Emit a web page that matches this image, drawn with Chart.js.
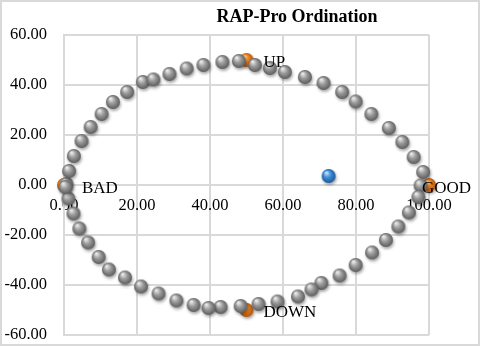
<!DOCTYPE html>
<html>
<head>
<meta charset="utf-8">
<script src="https://cdn.jsdelivr.net/npm/chart.js@4"></script>
<style>
  body { margin: 0; background: #fff; }
  #wrap { position: relative; width: 480px; height: 346px; }
  #frame { position: absolute; left: 0; top: 0; width: 480px; height: 346px; box-sizing: border-box; border: 2px solid #d9d9d9; pointer-events: none; }
</style>
</head>
<body>
<div id="wrap">
  <canvas id="myChart" width="480" height="346"></canvas>
  <div id="frame"></div>
</div>
<script>
// ordination scores
var grayX = [0.7, 1.4, 2.7, 4.8, 7.3, 10.3, 13.4, 17.3, 21.6, 24.5, 28.9, 33.6, 38.2, 43.4, 47.9,
  52.3, 56.4, 60.5, 66.0, 71.1, 76.2, 79.9, 84.2, 89.0, 92.7, 95.8, 98.4, 97.7,
  97.1, 94.5, 91.6, 88.2, 84.4, 79.9, 75.5, 70.5, 67.8, 64.1, 58.5, 53.3, 48.4, 42.9, 39.6,
  35.5, 30.8, 25.9, 21.1, 16.7, 12.3, 9.5, 6.6, 4.2, 2.6, 1.2, 0.4];
var grayY = [0.4, 5.6, 11.6, 17.6, 23.2, 28.4, 33.2, 37.2, 41.2, 42.2, 44.4, 46.6, 48.0, 49.2, 49.6,
  48.0, 46.8, 45.2, 43.2, 40.8, 37.2, 33.4, 28.4, 22.8, 17.2, 11.2, 5.2, -0.2,
  -4.8, -11.0, -16.6, -22.0, -27.0, -32.0, -36.2, -39.2, -41.8, -44.6, -46.6, -47.6, -48.4, -48.8, -49.2,
  -48.0, -46.2, -43.4, -40.6, -37.0, -33.8, -28.8, -23.0, -17.4, -11.4, -5.4, -0.8];

var refNames = ['BAD', 'UP', 'GOOD', 'DOWN'];
var refX = [0, 50, 100, 50];
var refY = [0, 50, 0, -50];

var siteX = [72.5];
var siteY = [3.6];

var titulo = 'RAP-Pro Ordination';
var fonte = "'Liberation Serif', 'Times New Roman', serif";

function pontos(xs, ys) {
  var arr = [];
  for (var i = 0; i < xs.length; i++) arr.push({ x: xs[i], y: ys[i] });
  return arr;
}

// little shaded ball used as point style
function bola(claro, medio, escuro) {
  var c = document.createElement('canvas');
  c.width = 22; c.height = 22;
  var g = c.getContext('2d');
  g.save();
  g.shadowColor = 'rgba(0,0,0,0.35)';
  g.shadowBlur = 3;
  g.shadowOffsetX = 1;
  g.shadowOffsetY = 2;
  var grad = g.createRadialGradient(8.5, 7.5, 0.5, 11, 11, 7.2);
  grad.addColorStop(0, claro);
  grad.addColorStop(0.45, medio);
  grad.addColorStop(1, escuro);
  g.fillStyle = grad;
  g.beginPath();
  g.arc(11, 11, 7, 0, Math.PI * 2);
  g.fill();
  g.restore();
  return c;
}

var bolaCinza = bola('#eeeeee', '#9c9c9c', '#5a5a5a');
var bolaLaranja = bola('#ffd6a6', '#f0821e', '#b0500a');
var bolaAzul = bola('#c6e4ff', '#3f8fd8', '#1b5797');

var offsets = {
  BAD: [18, 8],
  UP: [17, 7],
  GOOD: [-7, 8],
  DOWN: [17, 7]
};

var textos = {
  id: 'textos',
  afterDatasetsDraw: function(chart) {
    var ctx = chart.ctx;
    ctx.save();
    ctx.fillStyle = '#000';
    ctx.textAlign = 'left';
    ctx.textBaseline = 'alphabetic';
    ctx.font = '17px ' + fonte;
    var meta = chart.getDatasetMeta(2);
    meta.data.forEach(function(p, i) {
      var nome = refNames[i];
      var o = offsets[nome];
      ctx.fillText(nome, p.x + o[0], p.y + o[1]);
    });
    ctx.font = 'bold 18px ' + fonte;
    ctx.textAlign = 'center';
    ctx.fillText(titulo, 297, 22);
    ctx.restore();
  }
};

function semPadding(s) {
  s.paddingLeft = 0; s.paddingRight = 0; s.paddingTop = 0; s.paddingBottom = 0;
}

var ctx = document.getElementById('myChart');
var chart = new Chart(ctx, {
  type: 'scatter',
  data: {
    datasets: [{
      label: 'Site',
      data: pontos(siteX, siteY),
      pointStyle: bolaAzul,
      pointRadius: 7,
      order: 0,
      clip: false
    }, {
      label: 'Scale',
      data: pontos(grayX, grayY),
      pointStyle: bolaCinza,
      pointRadius: 7,
      order: 1,
      clip: false
    }, {
      label: 'Reference',
      data: pontos(refX, refY),
      pointStyle: bolaLaranja,
      pointRadius: 7,
      order: 2,
      clip: false
    }]
  },
  options: {
    responsive: false,
    animation: false,
    layout: { padding: { top: 35, right: 51, bottom: 11, left: 0 } },
    plugins: {
      legend: { display: false },
      tooltip: { enabled: false },
      title: { display: false }
    },
    scales: {
      x: {
        type: 'linear',
        position: { y: 0 },
        min: 0,
        max: 100,
        ticks: {
          stepSize: 20,
          padding: 11,
          color: '#000',
          font: { family: fonte, size: 16.5 },
          callback: function(v) { return v.toFixed(2); }
        },
        grid: { color: '#d9d9d9', lineWidth: 2, drawTicks: false },
        border: { color: '#d9d9d9', width: 2 },
        afterFit: semPadding
      },
      y: {
        type: 'linear',
        min: -60,
        max: 60,
        ticks: {
          stepSize: 20,
          padding: 17,
          color: '#000',
          font: { family: fonte, size: 16.5 },
          callback: function(v) { return v.toFixed(2); }
        },
        grid: { color: '#d9d9d9', lineWidth: 2, drawTicks: false },
        border: { color: '#d9d9d9', width: 2 },
        afterFit: function(s) { semPadding(s); s.width = 64; }
      }
    }
  },
  plugins: [textos]
});
</script>
</body>
</html>
